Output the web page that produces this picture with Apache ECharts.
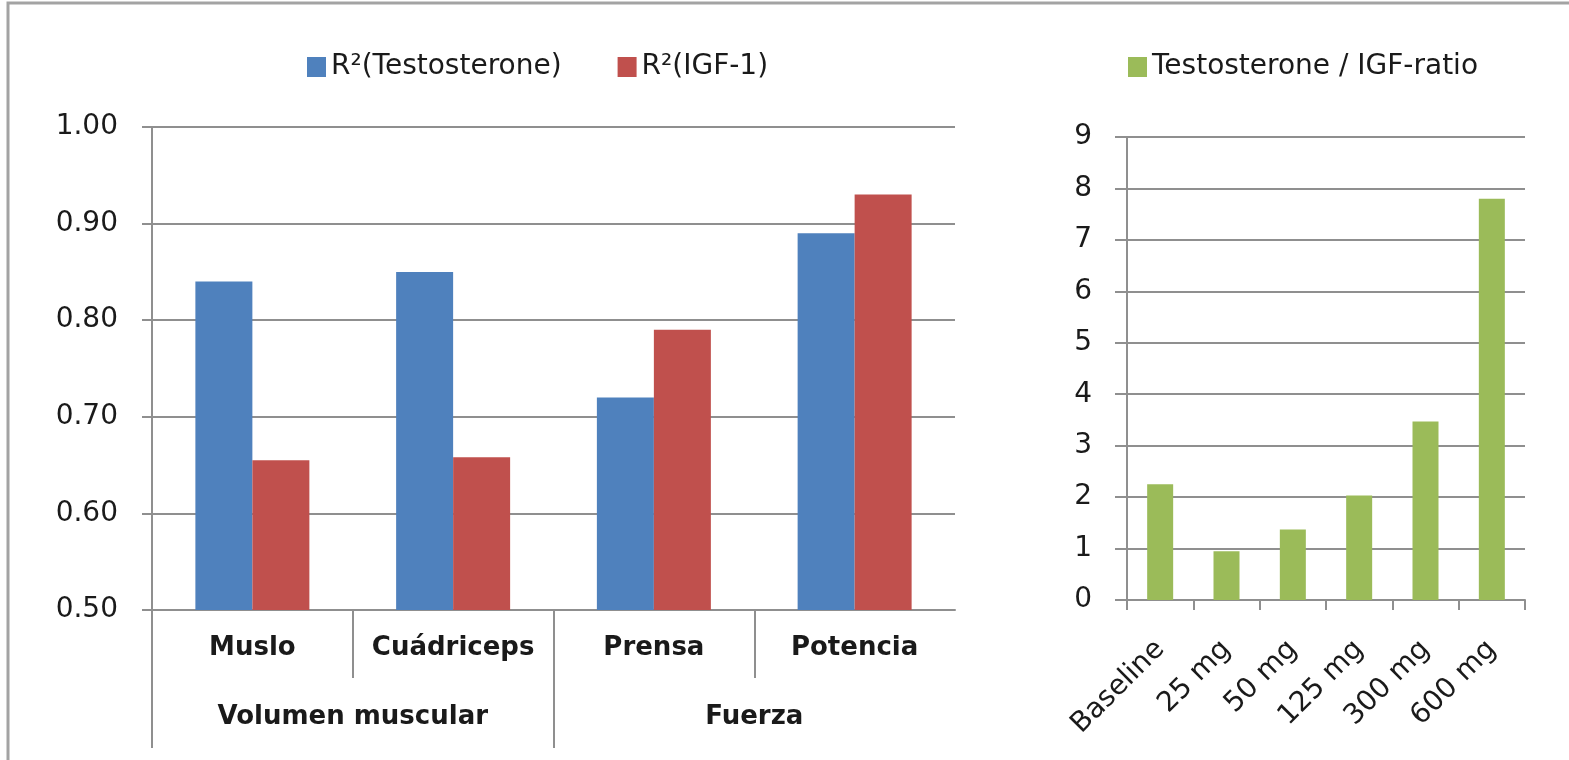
<!DOCTYPE html>
<html>
<head>
<meta charset="utf-8">
<script src="https://cdn.jsdelivr.net/npm/echarts@6/dist/echarts.min.js"></script>
<style>
  html, body { margin: 0; padding: 0; background: #fff; }
  #chart { width: 1569px; height: 760px; }
</style>
</head>
<body>
<div id="chart"></div>
<script>
// Correlation of muscle outcomes with hormone levels, grouped by outcome type
const groups = ['Volumen muscular', 'Fuerza'];
const measures = ['Muslo', 'Cuádriceps', 'Prensa', 'Potencia'];
const r2Testosterone = [0.84, 0.85, 0.72, 0.89];
const r2Igf1 = [0.655, 0.658, 0.79, 0.93];
const r2Ticks = [0.5, 1.0, 0.1];          // min, max, step

// Testosterone / IGF-1 ratio by dose
const doses = ['Baseline', '25 mg', '50 mg', '125 mg', '300 mg', '600 mg'];
const ratio = [2.25, 0.95, 1.37, 2.03, 3.47, 7.8];
const ratioTicks = [0, 9, 1];

const FONT = '"DejaVu Sans", "Open Sans", sans-serif';
const INK = '#1a1a1a';
const GRID_GRAY = '#8f8f8f';

const chart = echarts.init(document.getElementById('chart'), null, { renderer: 'canvas' });

const gridLine = { show: true, lineStyle: { color: GRID_GRAY, width: 2 } };
const axisLine = { show: true, lineStyle: { color: GRID_GRAY, width: 2 } };
const plainText = { fontFamily: FONT, fontSize: 28, color: INK };
const boldText = { fontFamily: FONT, fontSize: 26, fontWeight: 'bold', color: INK };

chart.setOption({
  backgroundColor: '#ffffff',
  animation: false,
  graphic: [{
    type: 'rect',
    shape: { x: 8, y: 3, width: 1700, height: 900 },
    style: { fill: 'none', stroke: '#a3a3a3', lineWidth: 3 },
    silent: true
  }],
  legend: [{
    left: 307, top: 53, padding: 0,
    itemWidth: 19, itemHeight: 20, itemGap: 56,
    icon: 'rect',
    textStyle: plainText,
    data: ['R²(Testosterone)', 'R²(IGF-1)']
  }, {
    left: 1128, top: 53, padding: 0,
    itemWidth: 19, itemHeight: 20,
    icon: 'rect',
    textStyle: plainText,
    data: ['Testosterone / IGF-ratio']
  }],
  grid: [
    { left: 152, right: 614, top: 127, bottom: 150 },   // correlation bars
    { left: 1127, right: 44, top: 137, bottom: 160 },   // ratio bars
    { left: 152, right: 614, top: 610, height: 68 },    // first-level category dividers
    { left: 152, right: 614, top: 610, height: 138 }    // second-level category dividers
  ],
  xAxis: [
    {
      gridIndex: 0, type: 'category', data: measures,
      axisLine: axisLine, axisTick: { show: false },
      axisLabel: Object.assign({ interval: 0, margin: 25 }, boldText)
    },
    {
      gridIndex: 0, type: 'category', data: groups, position: 'bottom',
      axisLine: { show: false }, axisTick: { show: false },
      axisLabel: Object.assign({ interval: 0, margin: 94 }, boldText)
    },
    {
      gridIndex: 1, type: 'category', data: doses,
      axisLine: axisLine,
      axisTick: { show: true, length: 10, lineStyle: { color: GRID_GRAY, width: 2 } },
      axisLabel: Object.assign({ interval: 0, rotate: 45, margin: 45 }, plainText)
    },
    {
      gridIndex: 2, type: 'category', data: measures,
      axisLine: { show: false }, axisTick: { show: false }, axisLabel: { show: false },
      splitLine: { show: true, interval: 0, showMaxLine: false, lineStyle: { color: GRID_GRAY, width: 2 } }
    },
    {
      gridIndex: 3, type: 'category', data: groups,
      axisLine: { show: false }, axisTick: { show: false }, axisLabel: { show: false },
      splitLine: { show: true, interval: 0, showMaxLine: false, lineStyle: { color: GRID_GRAY, width: 2 } }
    }
  ],
  yAxis: [
    {
      gridIndex: 0, type: 'value',
      min: r2Ticks[0], max: r2Ticks[1], interval: r2Ticks[2],
      axisLine: axisLine,
      axisTick: { show: true, length: 10, lineStyle: { color: GRID_GRAY, width: 2 } },
      splitLine: gridLine,
      axisLabel: Object.assign({ margin: 34, formatter: v => v.toFixed(2) }, plainText)
    },
    {
      gridIndex: 1, type: 'value',
      min: ratioTicks[0], max: ratioTicks[1], interval: ratioTicks[2],
      axisLine: axisLine,
      axisTick: { show: true, length: 12, lineStyle: { color: GRID_GRAY, width: 2 } },
      splitLine: gridLine,
      axisLabel: Object.assign({ margin: 35 }, plainText)
    },
    { gridIndex: 2, type: 'value', show: false },
    { gridIndex: 3, type: 'value', show: false }
  ],
  series: [
    {
      name: 'R²(Testosterone)', type: 'bar', xAxisIndex: 0, yAxisIndex: 0,
      data: r2Testosterone, barWidth: 57, barGap: '0%',
      itemStyle: { color: '#4f81bd' }
    },
    {
      name: 'R²(IGF-1)', type: 'bar', xAxisIndex: 0, yAxisIndex: 0,
      data: r2Igf1, barWidth: 57, barGap: '0%',
      itemStyle: { color: '#c0504d' }
    },
    {
      name: 'Testosterone / IGF-ratio', type: 'bar', xAxisIndex: 2, yAxisIndex: 1,
      data: ratio, barWidth: 26,
      itemStyle: { color: '#9bbb59' }
    }
  ]
});
</script>
</body>
</html>
